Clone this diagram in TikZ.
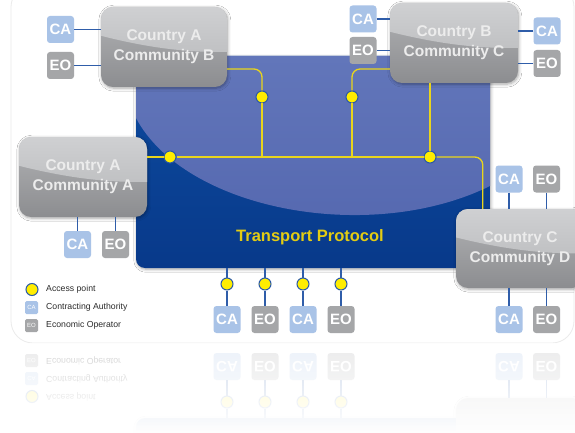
\documentclass[tikz,border=0pt]{standalone}
\usepackage{fontspec}
\setmainfont{Liberation Sans}
\usetikzlibrary{shadows.blur,fadings}

\definecolor{cafill}{HTML}{A9C3E7}
\definecolor{eofill}{HTML}{A5A6A8}
\definecolor{wirec}{HTML}{2F5DA9}
\definecolor{ylinec}{HTML}{E9D51C}
\definecolor{apfill}{HTML}{FFED00}
\definecolor{apdraw}{HTML}{2A5AA6}
\definecolor{tptext}{HTML}{E3CC13}
\definecolor{legc}{HTML}{2B2B2B}
\definecolor{ctextc}{HTML}{ECECEC}
\definecolor{cboxtop}{HTML}{B2B3B5}
\definecolor{cboxbot}{HTML}{8C8D90}
\definecolor{glosstop}{HTML}{CFD0D2}
\definecolor{glossbot}{HTML}{C0C1C3}
\definecolor{tpdarktop}{HTML}{0D4CA0}
\definecolor{tpdarkbot}{HTML}{08398A}
\definecolor{tplighttop}{HTML}{6276BA}
\definecolor{tplightbot}{HTML}{5467AF}
\definecolor{framec}{HTML}{EBEBEB}

\tikzfading[name=mirrorfade, top color=transparent!22, bottom color=transparent!0]

\tikzset{
  smallbox/.style={rounded corners=3pt, minimum size=27pt, inner sep=0pt, text=white,
    font=\bfseries\fontsize{15}{15}\selectfont},
  cabox/.style={smallbox, fill=cafill},
  eobox/.style={smallbox, fill=eofill},
  legbox/.style={rounded corners=1.5pt, minimum size=13pt, inner sep=0pt, text=white,
    font=\fontsize{6}{6}\selectfont},
  apoint/.style={circle, fill=apfill, draw=apdraw, line width=1pt, minimum size=12pt, inner sep=0pt},
  wire/.style={draw=wirec, line width=1.3pt},
  yline/.style={draw=ylinec, line width=1.3pt},
  ctext/.style={text=ctextc, font=\bfseries\fontsize{15.5}{20}\selectfont, align=center, inner sep=0pt},
  legtext/.style={anchor=west, text=legc, font=\fontsize{8.7}{10}\selectfont, inner sep=0pt},
  boxshadow/.style={blur shadow={shadow blur steps=6, shadow xshift=0.8pt, shadow yshift=-1.2pt,
    shadow opacity=35, shadow blur radius=3pt}},
}

% labels are switched off for the mirrored floor copy
\newif\ifwithlabels
\withlabelstrue

% glossy grey community box: name, x1, y1, x2, y2, label
\newcommand\countrybox[6]{%
  \path[rounded corners=12pt, top color=cboxtop, bottom color=cboxbot, boxshadow] (#2,#3) rectangle (#4,#5);
  \begin{scope}
    \clip[rounded corners=12pt] (#2,#3) rectangle (#4,#5);
    \path[top color=glosstop, bottom color=glossbot] (#2,#3) -- (#2,{#3+0.36*(#5-#3)})
      .. controls ({#2+0.4*(#4-#2)},{#3+0.52*(#5-#3)}) and ({#2+0.7*(#4-#2)},{#3+0.57*(#5-#3)})
      .. (#4,{#3+0.56*(#5-#3)}) -- (#4,#3) -- cycle;
  \end{scope}
  \node[ctext, minimum width={(#4-#2)*1pt}, minimum height={(#5-#3)*1pt}] (#1)
    at ({(#2+#4)/2},{(#3+#5)/2}) {\ifwithlabels #6\fi};
}

% transport protocol backbone
\newcommand\drawbackbone{%
  \path[rounded corners=9pt, top color=tpdarktop, bottom color=tpdarkbot, boxshadow] (136,56) rectangle (490,268);
  \begin{scope}
    \clip[rounded corners=9pt] (136,56) rectangle (490,268);
    \path[top color=tplighttop, bottom color=tplightbot] (136,56) -- (136,118)
      .. controls (185,210) and (370,245) .. (490,186) -- (490,56) -- cycle;
  \end{scope}
  \node[minimum width=354pt, minimum height=212pt, inner sep=0pt] (tp) at (313,162) {};
}

% everything along the lower edge: access points, parties, legend
\newcommand\drawlower{%
  \node[apoint] (ap5) at (227,284) {};
  \node[apoint] (ap6) at (265,284) {};
  \node[apoint] (ap7) at (303,284) {};
  \node[apoint] (ap8) at (341,284) {};
  \node[cabox] (ca5) at (227,319.5) {CA};
  \node[eobox] (eo5) at (265,319.5) {EO};
  \node[cabox] (ca6) at (303,319.5) {CA};
  \node[eobox] (eo6) at (341,319.5) {EO};
  \node[cabox] (ca8) at (509,319.5) {CA};
  \node[eobox] (eo8) at (546.5,319.5) {EO};
  \draw[wire] (ca5) -- (ap5);
  \draw[wire] (ap5) -- (ap5 |- tp.south);
  \draw[wire] (eo5) -- (ap6);
  \draw[wire] (ap6) -- (ap6 |- tp.south);
  \draw[wire] (ca6) -- (ap7);
  \draw[wire] (ap7) -- (ap7 |- tp.south);
  \draw[wire] (eo6) -- (ap8);
  \draw[wire] (ap8) -- (ap8 |- tp.south);
  \draw[wire] (ca8) -- (ca8 |- cCD.south);
  \draw[wire] (eo8) -- (eo8 |- cCD.south);
  % legend
  \node[apoint] (lap) at (32,289.5) {};
  \node[legtext] (laptext) at (46,289.5) {Access point};
  \node[legbox, fill=cafill] (lca) at (31.5,307.5) {CA};
  \node[legtext] (lcatext) at (46,307.5) {Contracting Authority};
  \node[legbox, fill=eofill] (leo) at (31.5,325.5) {EO};
  \node[legtext] (leotext) at (46,325.5) {Economic Operator};
}

\begin{document}
\begin{tikzpicture}[x=1pt, y=-1pt]
  \useasboundingbox (0,0) rectangle (575,433);
  \fill[white] (0,0) rectangle (575,433);
  \draw[framec, line width=0.8pt, rounded corners=22pt] (11,-15) rectangle (574,343);

  \drawbackbone
  \node[anchor=base, text=tptext, font=\bfseries\fontsize{16.5}{16.5}\selectfont] (tplabel) at (310,241) {Transport Protocol};

  % communities
  \countrybox{cAB}{101}{7}{227}{87}{Country A\\Community B}
  \countrybox{cBC}{390}{3}{518}{83}{Country B\\Community C}
  \countrybox{cAA}{19}{137}{147}{217}{Country A\\Community A}
  \countrybox{cCD}{456}{209}{584}{288}{Country C\\Community D}

  % access points on the backbone
  \node[apoint] (ap1) at (170,157) {};
  \node[apoint] (ap2) at (262,97) {};
  \node[apoint] (ap3) at (352,97) {};
  \node[apoint] (ap4) at (430,157) {};

  % contracting authorities and economic operators
  \node[cabox] (ca1) at (60.5,29.5) {CA};
  \node[eobox] (eo1) at (60.5,65.5) {EO};
  \node[cabox] (ca2) at (363,19) {CA};
  \node[eobox] (eo2) at (363,50.5) {EO};
  \node[cabox] (ca3) at (547,31) {CA};
  \node[eobox] (eo3) at (547,63.5) {EO};
  \node[cabox] (ca4) at (77.5,244.5) {CA};
  \node[eobox] (eo4) at (115.5,244.5) {EO};
  \node[cabox] (ca7) at (509,179) {CA};
  \node[eobox] (eo7) at (546.5,179) {EO};

  \draw[wire] (ca1) -- (ca1 -| cAB.west);
  \draw[wire] (eo1) -- (eo1 -| cAB.west);
  \draw[wire] (ca2) -- (ca2 -| cBC.west);
  \draw[wire] (eo2) -- (eo2 -| cBC.west);
  \draw[wire] (ca3) -- (ca3 -| cBC.east);
  \draw[wire] (eo3) -- (eo3 -| cBC.east);
  \draw[wire] (ca4) -- (ca4 |- cAA.south);
  \draw[wire] (eo4) -- (eo4 |- cAA.south);
  \draw[wire] (ca7) -- (ca7 |- cCD.north);
  \draw[wire] (eo7) -- (eo7 |- cCD.north);

  % yellow protocol lines
  \coordinate (abport) at ([yshift=-22pt]cAB.east);
  \coordinate (bcport) at ([yshift=-26pt]cBC.west);
  \coordinate (cdport) at ([xshift=27pt]cCD.north west);
  \draw[yline] (cAA.east |- ap1) -- (ap1);
  \draw[yline] (ap1) -- (ap4);
  \draw[yline, rounded corners=8pt] (ap4) -- (ap4 -| cdport) -- (cdport);
  \draw[yline, rounded corners=8pt] (abport) -- (abport -| ap2) -- (ap2);
  \draw[yline] (ap2) -- (ap2 |- ap1);
  \draw[yline, rounded corners=8pt] (bcport) -- (bcport -| ap3) -- (ap3);
  \draw[yline] (ap3) -- (ap3 |- ap1);
  \draw[yline] (ap4 |- cBC.south) -- (ap4);

  \drawlower

  % mirrored floor reflection
  \begin{scope}[shift={(0,686)}, yscale=-1, transform shape, name prefix=r-]
    \clip (0,253) rectangle (575,343);
    \withlabelsfalse
    \drawbackbone
    \countrybox{cCD}{456}{209}{584}{288}{}
    \drawlower
  \end{scope}
  \fill[white, path fading=mirrorfade] (0,343) rectangle (575,433);
\end{tikzpicture}
\end{document}
